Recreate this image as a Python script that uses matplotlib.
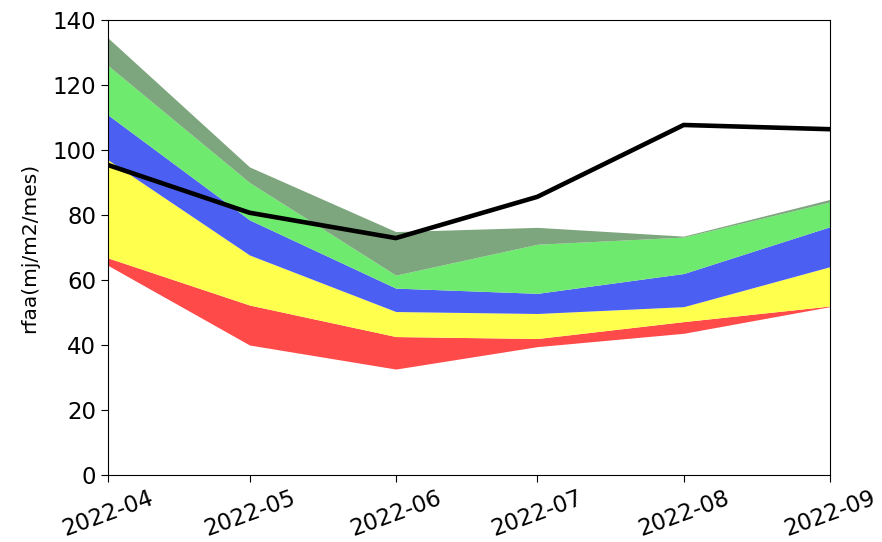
import datetime as dt
import matplotlib
matplotlib.use("Agg")
import matplotlib.pyplot as plt
import matplotlib.dates as mdates

months = [dt.date(2022, m, 1) for m in range(4, 10)]

# limites de las bandas (de abajo hacia arriba)
red_low = [64.5, 40.0, 32.6, 39.5, 43.6, 51.8]
red_high = [66.8, 52.3, 42.6, 42.0, 47.2, 52.0]
yellow_high = [97.0, 67.7, 50.3, 49.7, 51.8, 64.1]
blue_high = [110.8, 78.5, 57.5, 55.9, 62.0, 76.4]
green_high = [126.0, 90.0, 61.5, 71.0, 73.2, 84.0]
grey_high = [134.5, 94.8, 74.9, 76.2, 73.5, 84.8]

observado = [95.4, 80.7, 72.9, 85.6, 107.7, 106.4]

fig = plt.figure(figsize=(8.82, 5.42), dpi=100)
ax = fig.add_axes([0.1224, 0.1236, 0.8186, 0.8395])

ax.fill_between(months, red_low, red_high, color="#ff4a4a", lw=0)
ax.fill_between(months, red_high, yellow_high, color="#ffff4d", lw=0)
ax.fill_between(months, yellow_high, blue_high, color="#4b5ff2", lw=0)
ax.fill_between(months, blue_high, green_high, color="#6eea6e", lw=0)
ax.fill_between(months, green_high, grey_high, color="#7ea67e", lw=0)
ax.plot(months, observado, color="black", lw=3.3)

ax.set_xlim(months[0], months[-1])
ax.set_ylim(0, 140)
ax.xaxis.set_major_locator(mdates.MonthLocator())
ax.xaxis.set_major_formatter(mdates.DateFormatter("%Y-%m"))
ax.tick_params(axis="both", labelsize=16.5, length=5)
plt.setp(ax.get_xticklabels(), rotation=20, ha="center")
ax.set_ylabel("rfaa(mj/m2/mes)", fontsize=14.5, labelpad=10)

fig.savefig("out.png", dpi=100)
